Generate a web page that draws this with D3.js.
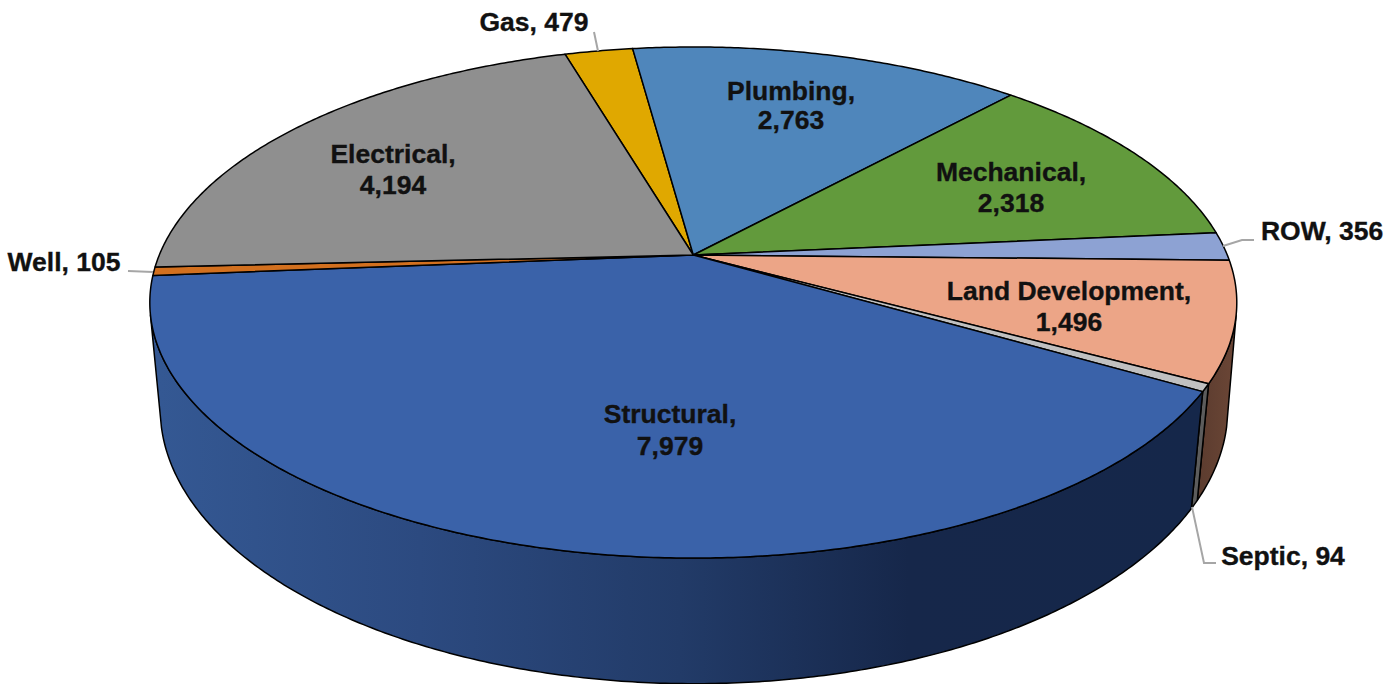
<!DOCTYPE html>
<html><head><meta charset="utf-8">
<script src="https://cdn.jsdelivr.net/npm/d3@7"></script>
<style>html,body{margin:0;padding:0;background:#fff;overflow:hidden}svg{display:block}
text{font-family:"Liberation Sans",Arial,sans-serif;font-weight:700;font-size:26.5px;fill:#111;stroke:#111;stroke-width:0.35px}</style>
</head><body><svg id="c" width="1396" height="684"></svg>
<script>
const categories=["Gas","Plumbing","Mechanical","ROW","Land Development","Septic","Structural","Well","Electrical"];
const values=[479,2763,2318,356,1496,94,7979,105,4194];
const topColors=["#e0a800","#4f86bb","#629a3c","#8da2d3","#eca587","#c0c0c0","#3a62a9","#d2701f","#8f8f8f"];
const sideColors=["#6e5400","#2b4a68","#36551f","#4e5a75","url(#gLand)","#5c5c5c","url(#gStruct)","#6e3a10","#4f4f4f"];
// label layout: centre x, first-line y, second-line y
const labelX=[534,791,1011,1322,1069,1283,670,64,393];
const labelY=[22,91,172,231,291,556,414,262,154];
const labelY2=[null,120,203,null,322,null,446,null,185];
const leaders=[[[594,32],[598,51]],null,null,[[1223,246],[1242,240],[1254,240]],null,[[1192,507],[1204,563],[1216,563]],null,[[128,271],[153,272]],null];

const rad=d=>d*Math.PI/180;
const startDeg=-16.45;
const topP={cx:693.3,y0:255,A:534,B:246.7,k:0.186};
const botP={cx:694,y0:362,A:526,B:267,k:0.17};
const faceV=0.233; // front-facing wall where v exceeds this
const project=(p,a)=>{const u=Math.sin(a),v=-Math.cos(a),w=1-p.k*v;return [p.cx+p.A*u/w,p.y0+p.B*v/w];};

const pie=d3.pie().sort(null).startAngle(rad(startDeg)).endAngle(rad(startDeg+360));
const arcs=pie(values);
const svg=d3.select("#c");
const defs=svg.append("defs");
function grad(id,x1,x2,stops){
  const g=defs.append("linearGradient").attr("id",id).attr("gradientUnits","userSpaceOnUse")
    .attr("x1",x1).attr("x2",x2).attr("y1",0).attr("y2",0);
  stops.forEach(s=>g.append("stop").attr("offset",s[0]).attr("stop-color",s[1]));
}
grad("gStruct",160,1200,[[0,"#345893"],[0.25,"#2c4a80"],[0.5,"#223b68"],[0.72,"#16274a"],[1,"#15274a"]]);
grad("gLand",1195,1235,[[0,"#5a3b2e"],[1,"#6b4636"]]);

const pathLine=d3.line();
const sample=(a0,a1)=>{const n=Math.max(2,Math.ceil(Math.abs(a1-a0)/rad(0.5)));return d3.range(n+1).map(i=>a0+(a1-a0)*i/n);};

// walls (front-facing part only)
const frontA=Math.acos(-faceV), frontB=2*Math.PI-frontA;
const wallG=svg.append("g").attr("stroke","#000").attr("stroke-width",1.5).attr("stroke-linejoin","round");
arcs.forEach((d,i)=>{
  for(const off of [0,2*Math.PI]){
    const a0=Math.max(d.startAngle+off,frontA), a1=Math.min(d.endAngle+off,frontB);
    if(a1<=a0) continue;
    const s=sample(a0,a1);
    const pts=s.map(a=>project(topP,a)).concat(s.slice().reverse().map(a=>project(botP,a)));
    wallG.append("path").attr("d",pathLine(pts)+"Z").attr("fill",sideColors[i]);
  }
});
// top face
const topG=svg.append("g").attr("stroke","#000").attr("stroke-width",1.5).attr("stroke-linejoin","round");
arcs.forEach((d,i)=>{
  const pts=[[topP.cx,topP.y0]].concat(sample(d.startAngle,d.endAngle).map(a=>project(topP,a)));
  topG.append("path").attr("d",pathLine(pts)+"Z").attr("fill",topColors[i]);
});
// leaders
svg.append("g").attr("fill","none").attr("stroke","#a6a6a6").attr("stroke-width",2)
  .selectAll("path").data(leaders.filter(Boolean)).join("path").attr("d",d=>pathLine(d));
// labels
const fmt=d3.format(",");
const lab=svg.append("g").attr("text-anchor","middle");
categories.forEach((c,i)=>{
  if(labelY2[i]!==null){
    lab.append("text").attr("x",labelX[i]).attr("y",labelY[i]).attr("dy","0.35em").text(c+",");
    lab.append("text").attr("x",labelX[i]).attr("y",labelY2[i]).attr("dy","0.35em").text(fmt(values[i]));
  } else {
    lab.append("text").attr("x",labelX[i]).attr("y",labelY[i]).attr("dy","0.35em").text(c+", "+fmt(values[i]));
  }
});
</script></body></html>
